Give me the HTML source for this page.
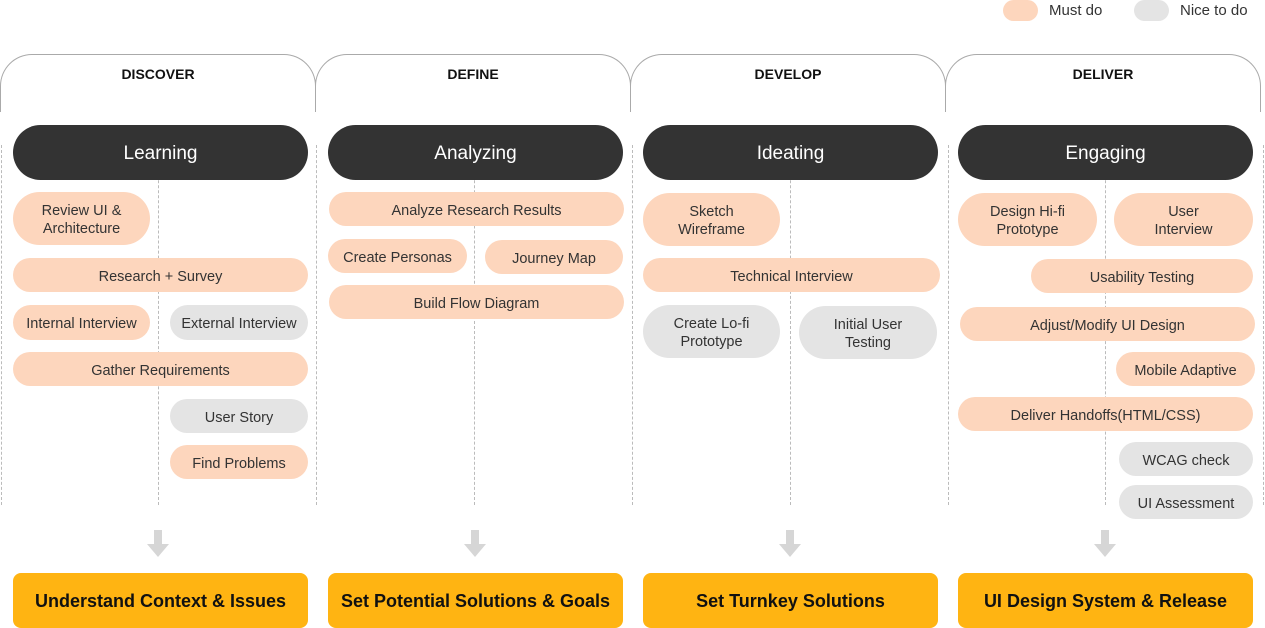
<!DOCTYPE html>
<html><head><meta charset="utf-8"><style>
body{margin:0;width:1265px;height:628px;position:relative;background:#fff;font-family:"Liberation Sans",sans-serif;overflow:hidden;color:#333}
.a{position:absolute;box-sizing:border-box;display:flex;align-items:center;justify-content:center;text-align:center}
.p{background:#FDD6BD;border-radius:20px;font-size:14.5px;line-height:18px;padding-top:3px}
.g{background:#E4E4E4;border-radius:20px;font-size:14.5px;line-height:18px;padding-top:3px}
.d{background:#333;color:#fff;border-radius:28px;font-size:19px;padding-top:2px}
.h{border:1px solid #aaa;border-bottom:none;border-radius:32px 32px 0 0;align-items:flex-start;padding-top:11px;font-weight:bold;font-size:14px;color:#111}
.o{background:#FFB412;border-radius:8px;font-weight:bold;font-size:18px;color:#111;padding-top:2px}
.v{position:absolute;top:145px;height:360px;border-left:1px dashed #bbb}
.ar{position:absolute;width:30px;height:30px}
</style></head><body>
<div class="a p" style="left:1003px;top:0;width:35px;height:21px;padding:0"></div>
<div class="a" style="left:1049px;top:0;height:21px;font-size:15px">Must do</div>
<div class="a g" style="left:1134px;top:0;width:35px;height:21px;padding:0"></div>
<div class="a" style="left:1180px;top:0;height:21px;font-size:15px">Nice to do</div>

<div class="a h" style="left:0;top:54px;width:316px;height:58px">DISCOVER</div>
<div class="a h" style="left:315px;top:54px;width:316px;height:58px">DEFINE</div>
<div class="a h" style="left:630px;top:54px;width:316px;height:58px">DEVELOP</div>
<div class="a h" style="left:945px;top:54px;width:316px;height:58px">DELIVER</div>

<div class="v" style="left:1px"></div><div class="v" style="left:158px"></div>
<div class="v" style="left:316px"></div><div class="v" style="left:474px"></div>
<div class="v" style="left:632px"></div><div class="v" style="left:790px"></div>
<div class="v" style="left:948px"></div><div class="v" style="left:1105px"></div>
<div class="v" style="left:1263px"></div>

<div class="a d" style="left:13px;top:125px;width:295px;height:55px">Learning</div>
<div class="a d" style="left:328px;top:125px;width:295px;height:55px">Analyzing</div>
<div class="a d" style="left:643px;top:125px;width:295px;height:55px">Ideating</div>
<div class="a d" style="left:958px;top:125px;width:295px;height:55px">Engaging</div>

<div class="a p" style="left:13px;top:192px;width:137px;height:53px;border-radius:27px">Review UI &amp;<br>Architecture</div>
<div class="a p" style="left:13px;top:258px;width:295px;height:34px">Research + Survey</div>
<div class="a p" style="left:13px;top:305px;width:137px;height:35px">Internal Interview</div>
<div class="a g" style="left:170px;top:305px;width:138px;height:35px">External Interview</div>
<div class="a p" style="left:13px;top:352px;width:295px;height:34px">Gather Requirements</div>
<div class="a g" style="left:170px;top:399px;width:138px;height:34px">User Story</div>
<div class="a p" style="left:170px;top:445px;width:138px;height:34px">Find Problems</div>

<div class="a p" style="left:329px;top:192px;width:295px;height:34px">Analyze Research Results</div>
<div class="a p" style="left:328px;top:239px;width:139px;height:34px">Create Personas</div>
<div class="a p" style="left:485px;top:240px;width:138px;height:34px">Journey Map</div>
<div class="a p" style="left:329px;top:285px;width:295px;height:34px">Build Flow Diagram</div>

<div class="a p" style="left:643px;top:193px;width:137px;height:53px;border-radius:27px">Sketch<br>Wireframe</div>
<div class="a p" style="left:643px;top:258px;width:297px;height:34px">Technical Interview</div>
<div class="a g" style="left:643px;top:305px;width:137px;height:53px;border-radius:27px">Create Lo-fi<br>Prototype</div>
<div class="a g" style="left:799px;top:306px;width:138px;height:53px;border-radius:27px">Initial User<br>Testing</div>

<div class="a p" style="left:958px;top:193px;width:139px;height:53px;border-radius:27px">Design Hi-fi<br>Prototype</div>
<div class="a p" style="left:1114px;top:193px;width:139px;height:53px;border-radius:27px">User<br>Interview</div>
<div class="a p" style="left:1031px;top:259px;width:222px;height:34px">Usability Testing</div>
<div class="a p" style="left:960px;top:307px;width:295px;height:34px">Adjust/Modify UI Design</div>
<div class="a p" style="left:1116px;top:352px;width:139px;height:34px">Mobile Adaptive</div>
<div class="a p" style="left:958px;top:397px;width:295px;height:34px">Deliver Handoffs(HTML/CSS)</div>
<div class="a g" style="left:1119px;top:442px;width:134px;height:34px">WCAG check</div>
<div class="a g" style="left:1119px;top:485px;width:134px;height:34px">UI Assessment</div>

<svg class="ar" style="left:143px;top:530px" viewBox="0 0 30 30"><path d="M11 0h8v14h7l-11 13L4 14h7z" fill="#d6d6d6"/></svg>
<svg class="ar" style="left:460px;top:530px" viewBox="0 0 30 30"><path d="M11 0h8v14h7l-11 13L4 14h7z" fill="#d6d6d6"/></svg>
<svg class="ar" style="left:775px;top:530px" viewBox="0 0 30 30"><path d="M11 0h8v14h7l-11 13L4 14h7z" fill="#d6d6d6"/></svg>
<svg class="ar" style="left:1090px;top:530px" viewBox="0 0 30 30"><path d="M11 0h8v14h7l-11 13L4 14h7z" fill="#d6d6d6"/></svg>

<div class="a o" style="left:13px;top:573px;width:295px;height:55px">Understand Context &amp; Issues</div>
<div class="a o" style="left:328px;top:573px;width:295px;height:55px">Set Potential Solutions &amp; Goals</div>
<div class="a o" style="left:643px;top:573px;width:295px;height:55px">Set Turnkey Solutions</div>
<div class="a o" style="left:958px;top:573px;width:295px;height:55px">UI Design System &amp; Release</div>
</body></html>
